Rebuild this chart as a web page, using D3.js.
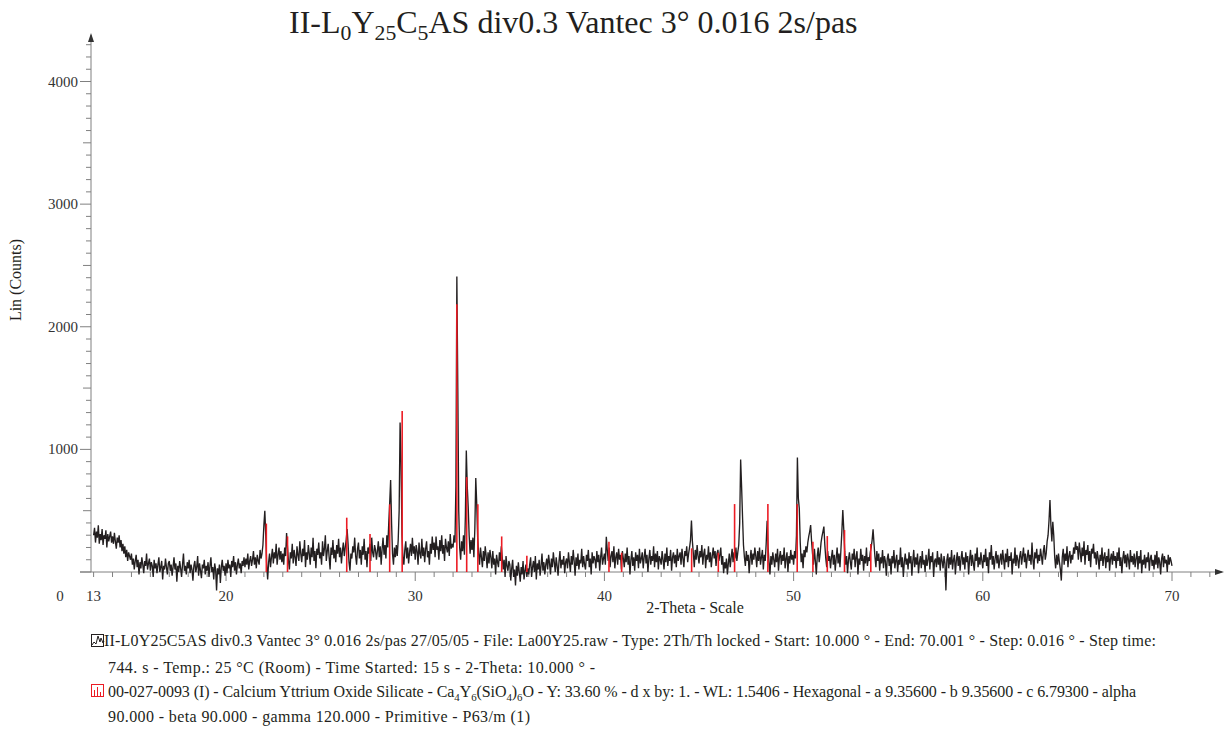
<!DOCTYPE html>
<html>
<head>
<meta charset="utf-8">
<script src="https://cdn.jsdelivr.net/npm/d3@7"></script>
<style>
  body { margin: 0; background: #fff; }
  text { font-family: "Liberation Serif", "Times New Roman", serif; }
</style>
</head>
<body>
<div id="xrd"></div>
<script>
// scan, counts every 0.05 deg from 13.00 to 70.00
// (one row of 20 readings per degree)
var scanStart = 13, scanStep = 0.05;
var counts = [
  300, 360, 240, 330, 280, 380, 230, 310, 260, 350, 220, 300, 270, 340, 200, 310, 250, 290, 330, 240,
  290, 230, 320, 250, 190, 280, 240, 300, 200, 260, 170, 230, 150, 210, 120, 180, 90, 160, 130, 100,
  150, 60, 110, 20, 90, 140, 40, 100, -20, 80, 30, 120, 60, -10, 90, 50, 150, 20, 70, 110,
  10, 80, 50, -40, 100, 30, 70, -10, 60, 120, 0, 40, 90, -60, 50, 20, 110, 40, -20, 70,
  90, 10, 60, -30, 40, 120, 20, 70, -80, 50, 0, 90, 30, -40, 60, 150, 10, 50, -20, 80,
  30, 100, -10, 60, 20, -70, 50, 90, 0, 40, 130, -30, 70, 10, -50, 60, 30, 100, -20, 50,
  10, 80, -40, 50, 120, 0, 40, -60, 70, 20, -150, 30, -20, 60, -90, 40, 100, 10, 50, -30,
  70, -10, 100, 30, 60, -40, 90, 40, 130, 10, 80, -20, 60, 110, 30, 70, -10, 90, 50, 120,
  40, 110, 60, 150, 20, 90, 130, 50, 100, 170, 60, 120, 30, 140, 90, 60, 180, 110, 150, 220,
  380, 500, 300, 60, -60, 80, 150, 40, 120, 190, 70, 160, 110, 230, 60, 140, 200, 100, 170, 80,
  150, 60, 200, 130, 318, 200, 90, 20, 160, 110, 230, 70, 180, 120, 50, 210, 140, 90, 250, 150,
  80, 190, 130, 260, 40, 160, 100, 220, 150, 60, 200, 120, 280, 90, 170, 30, 190, 140, 240, 110,
  160, 60, 250, 130, 190, 300, 90, 170, 230, 120, 20, 200, 140, 260, 110, 180, 80, 220, 150, 270,
  120, 200, 70, 170, 240, 130, 200, 260, 350, 230, 80, 10, 150, 110, 210, 160, 280, 130, 60, 190,
  240, 110, 180, 60, 210, 140, 270, 100, 170, 40, 200, 150, 230, 90, 280, 160, 120, 220, 180, 100,
  170, 250, 120, 210, 60, 190, 280, 140, 220, 110, 300, 200, 400, 560, 750, 400, 150, 60, 200, 120,
  220, 130, 260, 500, 1220, 900, 300, 120, 60, 180, 250, 110, 200, 70, 160, 230, 130, 280, 150, 210,
  100, 220, 170, 60, 240, 150, 110, 270, 130, 200, 80, 190, 250, 120, 170, 60, 230, 150, 290, 180,
  240, 120, 290, 180, 210, 100, 260, 170, 300, 150, 220, 90, 270, 200, 160, 250, 130, 310, 190, 230,
  200, 300, 240, 700, 2410, 1500, 500, 200, 100, 250, 170, 300, 140, 450, 990, 700, 530, 300, 150, 260,
  180, 280, 120, 350, 766, 560, 280, 150, 60, 200, 120, 40, 170, 90, 210, 130, 30, 160, 70, 180,
  120, 30, 170, 60, 110, -20, 140, 80, 40, 160, 90, 210, 120, 20, 100, -40, 130, 50, 10, 90,
  60, -70, 30, 100, -40, 20, -110, 50, -30, 80, 0, -80, 40, -20, 90, -60, 10, 60, -40, 30,
  -20, 60, 120, -40, 40, 90, 0, 130, -60, 70, 20, 100, -30, 50, 150, 10, 80, -20, 60, 110,
  20, 140, 70, -20, 110, 40, 160, 80, 0, 120, 50, -30, 90, 170, 30, 100, 60, 130, -10, 80,
  110, 30, 160, 80, 0, 130, 60, 180, 90, -30, 120, 50, 150, 20, 100, 70, 190, 40, 130, 60,
  20, 140, 90, 180, 40, 110, -20, 160, 70, 130, 100, 30, 170, 80, 140, 10, 120, 200, 60, 110,
  150, 60, 288, 180, 90, 200, 40, 130, 170, 80, 210, 30, 120, 160, 60, 190, 100, 140, 20, 170,
  110, 40, 150, 80, 200, 60, 130, -20, 100, 170, 50, 120, 10, 160, 90, 140, 30, 190, 70, 110,
  160, 30, 120, 190, 70, 140, 0, 110, 180, 60, 130, 90, 210, 40, 150, 80, 170, 20, 130, 100,
  60, 170, 100, 20, 150, 80, 200, 50, 130, 90, 180, 10, 120, 160, 70, 140, 40, 190, 90, 130,
  160, 60, 190, 110, 40, 170, 130, 210, 80, 150, 200, 260, 420, 250, 150, 40, 180, 100, 220, 130,
  70, 170, 120, 220, 60, 150, 190, 30, 140, 100, 210, 80, 160, 40, 130, 200, 110, 170, 50, 150,
  180, 90, 140, 200, 60, 130, -10, 80, 30, 110, -20, 70, 150, 40, 120, 190, 80, 160, 110, 200,
  90, 160, 220, 400, 918, 700, 450, 220, 120, 50, 170, 90, 140, -10, 110, 180, 60, 150, 100, 200,
  130, 40, 170, 90, 200, 60, 120, 180, 20, 140, 90, 230, 418, 200, 80, -20, 130, 60, 160, 100,
  40, 150, 80, 190, 10, 120, 170, 60, 140, 90, 200, 30, 110, 160, 0, 130, 70, 180, 100, 140,
  60, 170, 110, 300, 934, 600, 520, 240, 80, 150, 30, 180, 120, 210, 160, 240, 290, 330, 383, 250,
  150, 60, 190, 90, -20, 130, 200, 80, 150, 240, 290, 330, 370, 220, 110, 40, 170, 90, 130, 30,
  120, 180, 60, 140, 10, 110, 200, 70, 150, 40, 180, 330, 505, 350, 170, 60, 130, -10, 100, 160,
  80, 20, 150, 100, 190, 40, 120, 170, -20, 110, 60, 190, 90, 140, 10, 130, 70, 200, 50, 120,
  90, 160, 200, 260, 348, 230, 120, 40, 170, 90, 150, 10, 120, 70, 180, 30, 130, 90, -30, 110,
  150, 50, 110, -20, 130, 70, 180, 30, 90, 140, 0, 100, 60, 200, 40, 120, -40, 80, 150, 60,
  110, 20, 160, 70, 130, -30, 90, 180, 40, 120, 60, 150, -10, 80, 130, 30, 170, 60, 100, 0,
  140, 50, 100, 190, 20, 130, 80, 160, -40, 90, 110, 40, 170, 60, 120, 10, 150, 90, 30, 130,
  70, -150, 100, 150, 30, 120, 60, 180, 20, 100, 140, -20, 90, 160, 50, 130, 10, 110, 170, 60,
  120, 20, 160, 80, 130, -20, 100, 180, 50, 140, 70, 10, 150, 90, 200, 40, 120, 60, 160, 90,
  30, 140, 80, 190, 50, 120, -10, 160, 100, 220, 60, 130, 20, 110, 170, 70, 140, 30, 100, 150,
  60, 180, 100, 20, 150, 80, 190, 40, 130, 90, 160, -20, 110, 70, 200, 50, 140, 100, 30, 130,
  170, 60, 130, 200, 80, 150, 30, 120, 180, 90, 140, 60, 240, 100, 20, 160, 110, 190, 70, 140,
  90, 190, 130, 60, 170, 220, 100, 150, 250, 300, 420, 587, 380, 250, 410, 300, 120, 30, 140, 60,
  150, 80, 20, -70, 120, 190, 60, 150, 90, 210, 40, 130, 170, 70, 140, 100, 200, 150, 247, 180,
  210, 100, 240, 160, 80, 200, 130, 250, 60, 180, 140, 220, 90, 170, 40, 190, 150, 230, 110, 160,
  60, 170, 110, 20, 140, 90, 200, 50, 120, 160, 30, 130, 80, 190, 10, 110, 150, 60, 170, 90,
  130, 30, 160, 90, 200, 50, 120, -10, 110, 170, 70, 140, 40, 150, 100, 20, 180, 80, 130, 60,
  150, 40, 110, 170, 20, 130, 70, 180, -10, 100, 60, 140, 30, 120, 80, 160, 10, 110, 140, 50,
  100, 20, 140, 60, 170, 30, 120, 80, -20, 110, 150, 40, 130, 70, 100, 0, 140, 60, 120, 90,
  50
];

// reference pattern 00-027-0093 (sticks)
var refAngles  = [22.13, 23.25, 26.38, 27.61, 28.65, 29.31, 32.20, 32.72, 33.31, 34.57, 35.90,
                  40.24, 40.91, 44.61, 46.02, 46.88, 48.64, 50.19, 51.02, 51.78, 52.69, 54.08];
var refHeights = [395, 290, 443, 310, 552, 1312, 2184, 774, 553, 290, 133,
                  247, 157, 193, 157, 554, 554, 554, 247, 293, 342, 228];

var xTickLabels = [13, 20, 30, 40, 50, 60, 70];
var yTickLabels = [1000, 2000, 3000, 4000];

var titleParts = [["II-L"], ["0", 1], ["Y"], ["25", 1], ["C"], ["5", 1], ["AS div0.3 Vantec 3° 0.016 2s/pas"]];
var legendScan = [
  [["II-L0Y25C5AS div0.3 Vantec 3° 0.016 2s/pas 27/05/05 - File: La00Y25.raw - Type: 2Th/Th locked - Start: 10.000 ° - End: 70.001 ° - Step: 0.016 ° - Step time:"]],
  [["744. s - Temp.: 25 °C (Room) - Time Started: 15 s - 2-Theta: 10.000 ° -"]]
];
var legendRef = [
  [["00-027-0093 (I) - Calcium Yttrium Oxide Silicate - Ca"], ["4", 1], ["Y"], ["6", 1], ["(SiO"], ["4", 1], [")"], ["6", 1],
   ["O - Y: 33.60 % - d x by: 1. - WL: 1.5406 - Hexagonal - a 9.35600 - b 9.35600 - c 6.79300 - alpha"]],
  [["90.000 - beta 90.000 - gamma 120.000 - Primitive - P63/m (1)"]]
];

(function () {
    var width = 1231, height = 737;
    var axisCol = "#808080", lineCol = "#231f20", refCol = "#ec1c24";

    var svg = d3.select("#xrd").append("svg")
        .attr("width", width)
        .attr("height", height);

    var x = d3.scaleLinear().domain([13, 70]).range([93.6, 1172]);
    var y = d3.scaleLinear().domain([0, 4000]).range([572, 81.5]);
    var x0 = 91, xEnd = 1222, yTop = 35;

    // text made of [string, isSub] parts
    function richText(sel, parts, size) {
        var drop = size * 0.22;
        parts.forEach(function (p, i) {
            var prevSub = i > 0 && parts[i - 1][1];
            var t = sel.append("tspan").text(p[0]);
            if (p[1]) t.attr("font-size", size * 0.68).attr("dy", prevSub ? 0 : drop);
            else t.attr("dy", prevSub ? -drop : 0);
        });
    }

    // title
    var title = svg.append("text").attr("x", 289).attr("y", 33)
        .attr("font-size", 32).attr("fill", "#231f20");
    richText(title, titleParts, 32);

    // ticks
    var xt = svg.append("g").attr("stroke", axisCol).attr("stroke-width", 1);
    d3.range(13, 73).forEach(function (v) {
        xt.append("line").attr("x1", x(v)).attr("x2", x(v))
            .attr("y1", y(0)).attr("y2", y(0) + (v % 10 == 0 ? 9 : 5));
    });
    d3.range(0, 4400, 100).forEach(function (v) {
        var len = v % 1000 == 0 ? 11 : (v % 500 == 0 ? 8 : 5);
        xt.append("line").attr("x1", x0 - len).attr("x2", x0)
            .attr("y1", y(v)).attr("y2", y(v));
    });
    xt.append("line").attr("x1", x0 - 11).attr("x2", xEnd).attr("y1", y(0)).attr("y2", y(0));
    xt.append("line").attr("x1", x0).attr("x2", x0).attr("y1", y(0)).attr("y2", yTop);
    svg.append("path").attr("fill", "#333")
        .attr("d", "M" + x0 + "," + (yTop - 2) + "l-3,9l6,0z");
    svg.append("path").attr("fill", "#333")
        .attr("d", "M" + (xEnd + 2) + "," + y(0) + "l-9,-3l0,6z");

    // tick labels
    svg.append("g").selectAll("text").data(xTickLabels).join("text")
        .attr("x", d => x(d)).attr("y", 601)
        .attr("text-anchor", "middle").attr("font-size", 15).attr("fill", "#333")
        .text(d => d);
    svg.append("text").attr("x", 60).attr("y", 601).attr("text-anchor", "middle")
        .attr("font-size", 15).attr("fill", "#333").text("0");
    svg.append("g").selectAll("text").data(yTickLabels).join("text")
        .attr("x", 78).attr("y", d => y(d) + 5)
        .attr("text-anchor", "end").attr("font-size", 15).attr("fill", "#333")
        .text(d => d);

    svg.append("text").attr("x", 695).attr("y", 613).attr("text-anchor", "middle")
        .attr("font-size", 16).attr("fill", "#231f20").text("2-Theta - Scale");
    svg.append("text").attr("transform", "translate(21,280) rotate(-90)")
        .attr("text-anchor", "middle").attr("font-size", 16).attr("fill", "#231f20")
        .text("Lin (Counts)");

    // measured scan
    var line = d3.line()
        .x((d, i) => x(scanStart + i * scanStep))
        .y(d => y(d));
    svg.append("path").datum(counts)
        .attr("fill", "none").attr("stroke", lineCol).attr("stroke-width", 1.35)
        .attr("d", line);

    // reference sticks
    svg.append("g").attr("stroke", refCol).attr("stroke-width", 1.6)
        .selectAll("line").data(refAngles).join("line")
        .attr("x1", d => x(d)).attr("x2", d => x(d))
        .attr("y1", y(0)).attr("y2", (d, i) => y(refHeights[i]));

    // legend
    var lg = svg.append("g");
    lg.append("rect").attr("x", 91.5).attr("y", 634.5).attr("width", 12).attr("height", 12)
        .attr("fill", "none").attr("stroke", "#231f20");
    lg.append("path").attr("fill", "none").attr("stroke", "#231f20")
        .attr("d", "M92,645l2,-3l2,2l2,-8l2,6l1,-4l2,5l1,-2");
    lg.append("rect").attr("x", 91.5).attr("y", 684.5).attr("width", 12).attr("height", 12)
        .attr("fill", "none").attr("stroke", refCol);
    lg.append("path").attr("fill", "none").attr("stroke", refCol)
        .attr("d", "M94.5,696v-6M97.5,696v-9M100.5,696v-4");

    var rows = [
        {parts: legendScan[0], x: 104, y: 646, w: 1052},
        {parts: legendScan[1], x: 108, y: 673, w: 487},
        {parts: legendRef[0], x: 108, y: 697, w: 1028},
        {parts: legendRef[1], x: 108, y: 722, w: 422}
    ];
    rows.forEach(function (r) {
        var t = lg.append("text").attr("x", r.x).attr("y", r.y)
            .attr("font-size", 16).attr("fill", "#231f20")
            .attr("textLength", r.w);
        richText(t, r.parts, 16);
    });
})();
</script>
</body>
</html>
